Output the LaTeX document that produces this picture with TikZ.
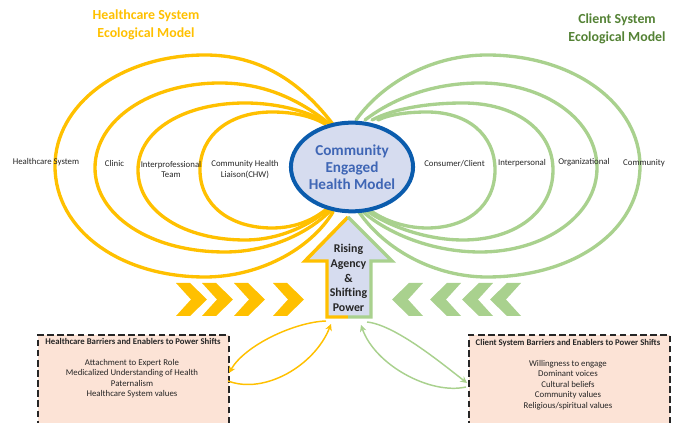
\documentclass[tikz,border=0pt]{standalone}
\usepackage{fontspec}
\setmainfont{Carlito}
\usetikzlibrary{arrows.meta,calc,shapes.geometric}
\definecolor{ylw}{HTML}{FFC000}
\definecolor{grn}{HTML}{A9D18E}
\definecolor{dgrn}{HTML}{548235}
\definecolor{blu}{HTML}{0B5CAD}
\definecolor{lblu}{HTML}{D6DCEF}
\definecolor{tblu}{HTML}{3F66B5}
\definecolor{peach}{HTML}{FCE3D6}
\definecolor{txt}{HTML}{262626}
\newcommand{\fs}[1]{\fontsize{#1}{#1}\selectfont}
\tikzset{
 x=0.75pt,y=-0.75pt,
 ring/.style={line width=2.5pt,line cap=round},
 ylwring/.style={ring,draw=ylw},
 grnring/.style={ring,draw=grn},
 lab/.style={font=\fs{6.6},text=txt,align=center,inner sep=0pt},
 title/.style={font=\fs{10.4}\bfseries,align=center,inner sep=0pt},
 barrier/.style={draw=black!85,fill=peach,line width=1.7pt,dash pattern=on 5pt off 2.6pt},
 loop/.style={line width=#1,-{Stealth[length=5pt,width=5pt]}},
 boxhead/.style={font=\fs{6.55}\bfseries,text=black!85,inner sep=0pt},
 boxbody/.style={font=\fs{6.6},text=txt,align=center,inner sep=0pt},
}
\begin{document}
\begin{tikzpicture}
\useasboundingbox (0,0) rectangle (676,423);
\clip (0,0) rectangle (676,423);
% healthcare rings
\draw[ylwring] (335,127) .. controls (300,80) and (258,55) .. (205,55) .. controls (120,55) and (55,105) .. (55,166) .. controls (55,230) and (120,277) .. (205,277) .. controls (258,277) and (310,250) .. (333,212);
\draw[ylwring] (331,125) .. controls (300,100) and (265,83) .. (220,83) .. controls (150,83) and (95,120) .. (95,168) .. controls (95,215) and (150,252) .. (225,252) .. controls (270,252) and (310,232) .. (331,210);
\draw[ylwring] (328,123) .. controls (305,110) and (275,103) .. (245,103) .. controls (185,103) and (138,130) .. (138,170) .. controls (138,212) and (185,240) .. (245,240) .. controls (280,240) and (310,225) .. (330,208);
\draw[ylwring] (325,124) .. controls (310,115) and (290,112) .. (272,112) .. controls (230,112) and (200,135) .. (200,170) .. controls (200,205) and (230,228) .. (272,228) .. controls (295,228) and (315,220) .. (330,206);
% client rings
\draw[grnring] (356,120) .. controls (385,80) and (435,55) .. (487,55) .. controls (575,55) and (640,105) .. (640,166) .. controls (640,230) and (575,277) .. (487,277) .. controls (435,277) and (385,250) .. (359,212);
\draw[grnring] (365,120) .. controls (395,97) and (435,83) .. (480,83) .. controls (545,83) and (597,120) .. (597,168) .. controls (597,215) and (545,252) .. (480,252) .. controls (430,252) and (385,232) .. (361,210);
\draw[grnring] (372,120) .. controls (395,108) and (430,103) .. (463,103) .. controls (515,103) and (553,130) .. (553,170) .. controls (553,212) and (515,240) .. (463,240) .. controls (425,240) and (385,225) .. (363,208);
\draw[grnring] (378,120) .. controls (390,114) and (410,112) .. (427,112) .. controls (468,112) and (495,135) .. (495,170) .. controls (495,205) and (468,228) .. (427,228) .. controls (405,228) and (380,220) .. (365,206);
% centre
\node (centre) [ellipse,draw=blu,fill=lblu,line width=3pt,minimum width=91.5pt,minimum height=66.5pt,inner sep=0pt,font=\fs{11.4}\bfseries,text=tblu,align=center] at (352,167) {Community\\[1.5pt]Engaged\\[1.5pt]Health Model};
% rising arrow
\fill[lblu] (348,217) -- (393,261) -- (371,261) -- (371,317) -- (327,317) -- (327,261) -- (303,261) -- cycle;
\draw[ylw,line width=2.6pt,line join=miter] (348,217) -- (305,261) -- (327,261) -- (327,317) -- (348,317);
\draw[grn,line width=2.6pt,line join=miter] (348,217) -- (392,261) -- (371,261) -- (371,317) -- (348,317);
\node (rising) [font=\fs{8.9}\bfseries,text=black!85,align=center,inner sep=0pt] at (348.5,278) {Rising\\[2.1pt]Agency\\[2.1pt]\&\\[2.1pt]Shifting\\[2.1pt]Power};
% chevrons
\foreach \a in {176,202,234,273}
 \fill[ylw] (\a,283) -- (\a+14,283) -- (\a+31,299.5) -- (\a+14,316) -- (\a,316) -- (\a+15,299.5) -- cycle;
\foreach \a in {423,461,493,521}
 \fill[grn] (\a,283) -- (\a-14,283) -- (\a-31,299.5) -- (\a-14,316) -- (\a,316) -- (\a-15,299.5) -- cycle;
% barrier boxes
\node (hbox) [barrier,minimum width=143.2pt,minimum height=75pt,anchor=north west,inner sep=0pt] at (37,334) {};
\node (cbox) [barrier,minimum width=150.7pt,minimum height=75pt,anchor=north west,inner sep=0pt] at (468,334) {};
\node (hhead) [boxhead] at (133,341.5) {Healthcare Barriers and Enablers to Power Shifts};
\node (hbody) [boxbody] at (132,378.5) {Attachment to Expert Role\\[1.2pt]Medicalized Understanding of Health\\[1.2pt]Paternalism\\[1.2pt]Healthcare System values};
\node (chead) [boxhead] at (568,343) {Client System Barriers and Enablers to Power Shifts};
\node (cbody) [boxbody] at (568,385) {Willingness to engage\\[1.2pt]Dominant voices\\[1.2pt]Cultural beliefs\\[1.2pt]Community values\\[1.2pt]Religious/spiritual values};
% loop arrows
\coordinate (hL) at (228,381);
\coordinate (hLt) at (229,373);
\coordinate (hT) at (326,321);
\coordinate (hTb) at (331,324);
\coordinate (cT) at (367,322);
\coordinate (cTb) at (361,325);
\coordinate (cR) at (467,383);
\coordinate (cRb) at (466,387);
\draw[ylw,loop=1.1pt] (hT) .. controls (295,322) and (245,345) .. (hLt);
\draw[ylw,loop=1.1pt] (hL) .. controls (265,395) and (315,365) .. (hTb);
\draw[grn,loop=1.1pt] (cT) .. controls (395,325) and (440,362) .. (cR);
\draw[grn,loop=1.1pt] (cRb) .. controls (430,395) and (375,365) .. (cTb);
% titles
\node (ht) [title,text=ylw] at (146,25) {Healthcare System\\[3pt]Ecological Model};
\node (ct) [title,text=dgrn] at (617,29) {Client System\\[3pt]Ecological Model};
% ring labels
\node (l1) [lab] at (46,162) {Healthcare System};
\node (l2) [lab] at (114.5,163.5) {Clinic};
\node (l3) [lab] at (171,169.5) {Interprofessional\\[1pt]Team};
\node (l4) [lab] at (245,169.5) {Community Health\\[1pt]Liaison(CHW)};
\node (l5) [lab] at (454.5,163.5) {Consumer/Client};
\node (l6) [lab] at (522,163) {Interpersonal};
\node (l7) [lab] at (584,162.5) {Organizational};
\node (l8) [lab] at (644,163) {Community};
\end{tikzpicture}
\end{document}
